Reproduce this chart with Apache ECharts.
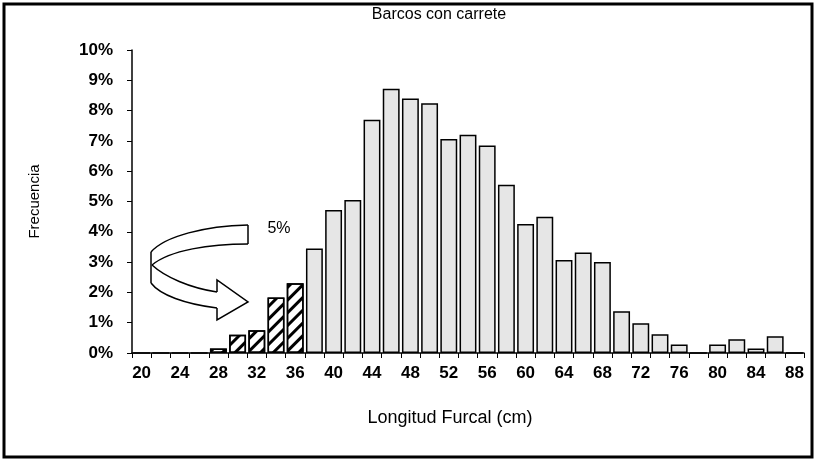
<!DOCTYPE html>
<html>
<head>
<meta charset="utf-8">
<script src="https://cdn.jsdelivr.net/npm/echarts@6/dist/echarts.min.js"></script>
<style>
  html, body { margin: 0; padding: 0; background: #fff; }
  #chart { width: 816px; height: 461px; }
</style>
</head>
<body>
<div id="chart"></div>
<script>
// longitud furcal (cm), clases de 2 cm
const categories = ['20', '22', '24', '26', '28', '30', '32', '34', '36', '38', '40', '42',
  '44', '46', '48', '50', '52', '54', '56', '58', '60', '62', '64', '66', '68', '70',
  '72', '74', '76', '78', '80', '82', '84', '86', '88']

// frecuencia (%)
const frequency = [0, 0, 0, 0, 0.15, 0.6, 0.75, 1.83, 2.3, 3.45, 4.72, 5.05,
  7.7, 8.72, 8.4, 8.24, 7.06, 7.2, 6.85, 5.55, 4.26, 4.5, 3.07, 3.32, 3.0, 1.38,
  0.98, 0.62, 0.28, 0, 0.28, 0.45, 0.15, 0.55, 0]

// clases rayadas (bajo la talla minima)
const hatched = ['28', '30', '32', '34', '36']

const annotation = '5%'

const chart = echarts.init(document.getElementById('chart'))

const font = 'Liberation Sans, Arial, sans-serif'

const hatchDecal = {
  symbol: 'rect',
  symbolSize: 1,
  color: '#000',
  dashArrayX: [1, 0],
  dashArrayY: [3, 6],
  rotation: -Math.PI / 4
}

const barData = frequency.map((v, i) => {
  const isHatched = hatched.includes(categories[i])
  return {
    value: v,
    itemStyle: isHatched
      ? { color: '#fff', decal: hatchDecal }
      : { color: '#e6e6e6' }
  }
})

// flecha curva (trazo)
const arrowStyle = { fill: 'none', stroke: '#000', lineWidth: 1.5 }
function seg(x1, y1, x2, y2) {
  return { type: 'line', shape: { x1, y1, x2, y2 }, style: arrowStyle, silent: true }
}
function curve(x1, y1, cpx1, cpy1, cpx2, cpy2, x2, y2) {
  return { type: 'bezierCurve', shape: { x1, y1, cpx1, cpy1, cpx2, cpy2, x2, y2 }, style: arrowStyle, silent: true }
}
const arrowParts = [
  seg(248, 225, 248, 244),
  curve(248, 244, 210, 244, 170, 250, 152, 265),
  curve(152, 265, 165, 277, 190, 288, 217, 292),
  { type: 'polyline', shape: { points: [[217, 292], [217, 280], [248, 302], [217, 320], [217, 308]] }, style: arrowStyle, silent: true },
  curve(217, 308, 185, 304, 160, 295, 151, 283),
  seg(151, 283, 151, 252),
  curve(151, 252, 165, 236, 205, 226, 248, 225)
]

const option = {
  backgroundColor: '#fff',
  title: {
    text: 'Barcos con carrete',
    left: 434,
    top: 2,
    textAlign: 'center',
    textStyle: { fontFamily: font, fontSize: 16, fontWeight: 'normal', color: '#000' }
  },
  grid: {
    left: 132,
    right: 12,
    top: 50,
    bottom: 108
  },
  xAxis: {
    type: 'category',
    data: categories,
    name: 'Longitud Furcal (cm)',
    nameLocation: 'middle',
    nameGap: 56,
    nameTextStyle: { fontFamily: font, fontSize: 18, color: '#000', padding: [0, 36, 0, 0] },
    axisLine: { lineStyle: { color: '#000', width: 1.5 } },
    axisTick: { show: true, interval: 0, length: 5, lineStyle: { color: '#000' } },
    axisLabel: { interval: 1, fontFamily: font, fontSize: 17, fontWeight: 'bold', color: '#000', margin: 12 }
  },
  yAxis: {
    type: 'value',
    min: 0,
    max: 10,
    interval: 1,
    name: 'Frecuencia',
    nameLocation: 'middle',
    nameGap: 90,
    nameTextStyle: { fontFamily: font, fontSize: 15, color: '#000' },
    axisLine: { show: true, lineStyle: { color: '#000', width: 1.5 } },
    axisTick: { show: true, length: 5, lineStyle: { color: '#000' } },
    splitLine: { show: false },
    axisLabel: {
      formatter: '{value}%',
      fontFamily: font,
      fontSize: 17,
      fontWeight: 'bold',
      color: '#000',
      margin: 19
    }
  },
  series: [
    {
      type: 'bar',
      data: barData,
      barCategoryGap: '12%',
      itemStyle: { borderColor: '#000', borderWidth: 1.5 },
      silent: true,
      animation: false
    }
  ],
  graphic: [
    {
      type: 'rect',
      shape: { x: 4, y: 4, width: 808, height: 453 },
      style: { fill: 'none', stroke: '#000', lineWidth: 3 },
      silent: true
    },
    { type: 'group', children: arrowParts },
    {
      type: 'text',
      x: 279,
      y: 229,
      style: {
        text: annotation,
        fontFamily: font,
        fontSize: 16,
        fill: '#000',
        align: 'center',
        verticalAlign: 'middle'
      },
      silent: true
    }
  ]
}

chart.setOption(option)
</script>
</body>
</html>
